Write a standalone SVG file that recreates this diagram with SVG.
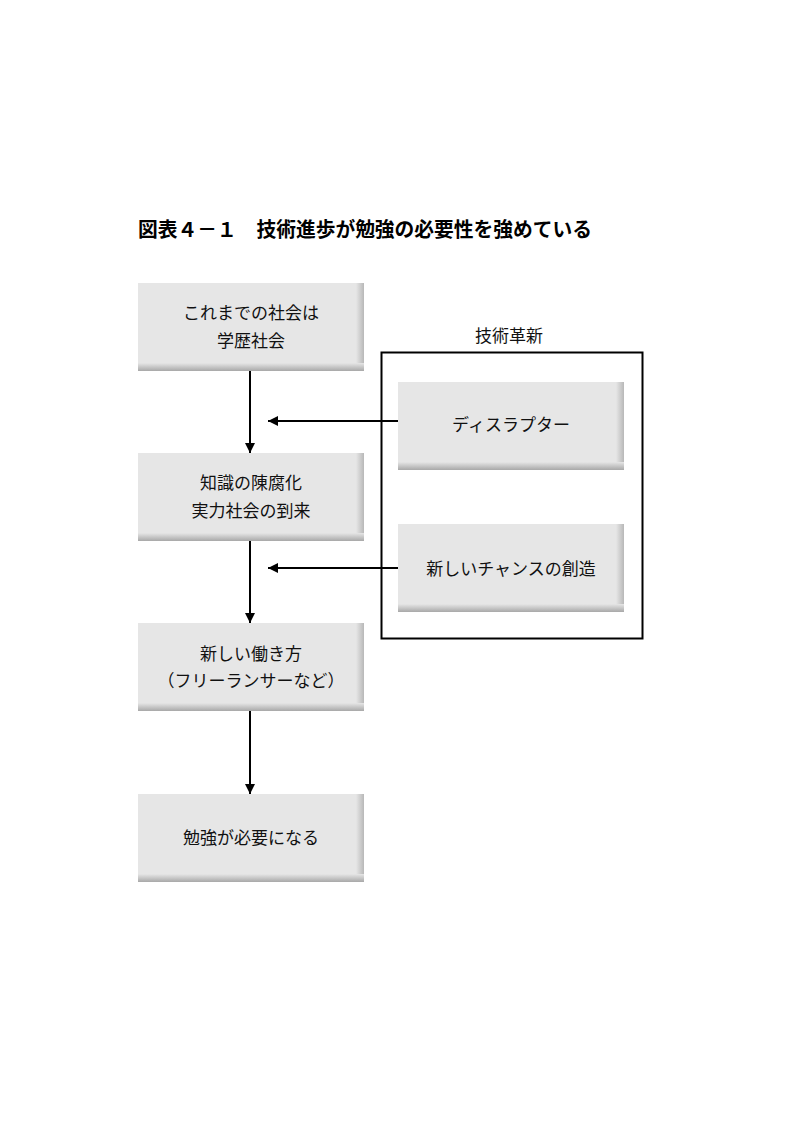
<svg xmlns="http://www.w3.org/2000/svg" width="794" height="1123" viewBox="0 0 794 1123">
<defs>
<linearGradient id="bot" x1="0" y1="0" x2="0" y2="1">
<stop offset="0" stop-color="#e6e6e6"/>
<stop offset="1" stop-color="#a8a8a8"/>
</linearGradient>
<linearGradient id="rgt" x1="0" y1="0" x2="1" y2="0">
<stop offset="0" stop-color="#e6e6e6"/>
<stop offset="1" stop-color="#b8b8b8"/>
</linearGradient>
<marker id="ah" viewBox="0 0 10 10" refX="10" refY="5" markerWidth="10" markerHeight="10" markerUnits="userSpaceOnUse" orient="auto">
<path d="M0,0 L10,5 L0,10 z" fill="#000"/>
</marker>
</defs>
<style>
.face{fill:#e6e6e6}
.rb{fill:url(#rgt)}
.bb{fill:url(#bot)}
.lbl{font-family:"Liberation Sans","Noto Sans CJK JP",sans-serif;font-size:17px;fill:#111;text-anchor:middle}
.ttl{font-family:"Liberation Sans","Noto Sans CJK JP",sans-serif;font-size:20px;font-weight:bold;fill:#000}
.ln{stroke:#000;stroke-width:2;fill:none}
</style>
<rect width="794" height="1123" fill="#fff"/>
<text class="ttl" x="138" y="237" textLength="454" lengthAdjust="spacingAndGlyphs">図表４－１　技術進歩が勉強の必要性を強めている</text>

<g id="container">
<rect x="381.5" y="352.5" width="261" height="286" fill="none" stroke="#000" stroke-width="2"/>
<text class="lbl" x="509" y="342">技術革新</text>
</g>

<g id="n1">
<rect class="face" x="138" y="283" width="226" height="88"/>
<rect class="rb" x="356" y="283" width="8" height="88"/>
<rect class="bb" x="138" y="363" width="226" height="8"/>
<text class="lbl" x="251" y="319">これまでの社会は</text>
<text class="lbl" x="251" y="347">学歴社会</text>
</g>
<g id="n2">
<rect class="face" x="138" y="453" width="226" height="88"/>
<rect class="rb" x="356" y="453" width="8" height="88"/>
<rect class="bb" x="138" y="533" width="226" height="8"/>
<text class="lbl" x="251" y="489">知識の陳腐化</text>
<text class="lbl" x="251" y="517">実力社会の到来</text>
</g>
<g id="n3">
<rect class="face" x="138" y="623" width="226" height="88"/>
<rect class="rb" x="356" y="623" width="8" height="88"/>
<rect class="bb" x="138" y="703" width="226" height="8"/>
<text class="lbl" x="251" y="660">新しい働き方</text>
<text class="lbl" x="251" y="687">（フリーランサーなど）</text>
</g>
<g id="n4">
<rect class="face" x="138" y="794" width="226" height="88"/>
<rect class="rb" x="356" y="794" width="8" height="88"/>
<rect class="bb" x="138" y="874" width="226" height="8"/>
<text class="lbl" x="251" y="844">勉強が必要になる</text>
</g>
<g id="n5">
<rect class="face" x="398" y="382" width="226" height="88"/>
<rect class="rb" x="616" y="382" width="8" height="88"/>
<rect class="bb" x="398" y="462" width="226" height="8"/>
<text class="lbl" x="511" y="431">ディスラプター</text>
</g>
<g id="n6">
<rect class="face" x="398" y="524" width="226" height="88"/>
<rect class="rb" x="616" y="524" width="8" height="88"/>
<rect class="bb" x="398" y="604" width="226" height="8"/>
<text class="lbl" x="511" y="575">新しいチャンスの創造</text>
</g>

<g id="connectors">
<line class="ln" x1="250" y1="371" x2="250" y2="453" marker-end="url(#ah)"/>
<line class="ln" x1="250" y1="541" x2="250" y2="623" marker-end="url(#ah)"/>
<line class="ln" x1="250" y1="711" x2="250" y2="794" marker-end="url(#ah)"/>
<line class="ln" x1="398" y1="421" x2="268" y2="421" marker-end="url(#ah)"/>
<line class="ln" x1="398" y1="568" x2="268" y2="568" marker-end="url(#ah)"/>
</g>
</svg>
